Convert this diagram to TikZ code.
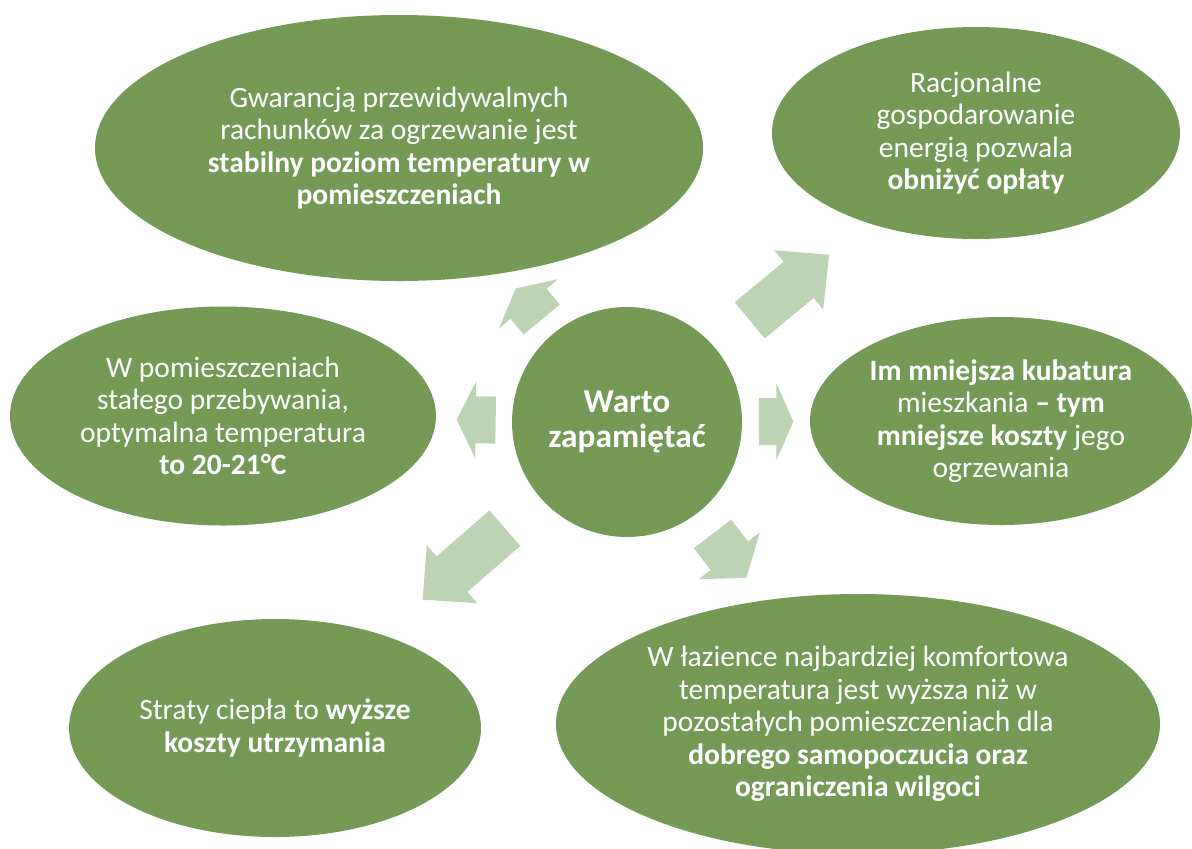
\documentclass[tikz,border=0pt]{standalone}
\usepackage{fontspec}
\setmainfont{Carlito}
\usetikzlibrary{shapes.geometric, calc}
\definecolor{leafgreen}{RGB}{116,154,86}
\definecolor{palegreen}{RGB}{188,212,179}
\tikzstyle{idea} = [ellipse, fill=leafgreen, text=white, inner sep=0pt, text centered, font=\fontsize{16.8}{18.5}\selectfont]
\tikzstyle{hubnode} = [circle, fill=leafgreen, text=white, minimum size=4.6cm, inner sep=0pt, text centered, font=\fontsize{19}{20}\selectfont\bfseries]
\tikzstyle{flow} = [fill=palegreen]
% block arrow from #1 towards #2: gap, length, head length
\newcommand{\flowarrow}[5]{%
  \path (#1) -- (#2) coordinate[pos=0] (fa) coordinate[pos=1] (fb);
  \pgfmathsetlengthmacro\fbase{#3+#4-#5}
  \pgfmathsetlengthmacro\ftip{#3+#4}
  \coordinate (ft) at ($(fa)!#3!(fb)$);
  \coordinate (fh) at ($(fa)!\fbase!(fb)$);
  \coordinate (fp) at ($(fa)!\ftip!(fb)$);
  \fill[flow] ($(ft)!0.47cm!90:(fb)$) -- ($(fh)!0.47cm!90:(fb)$) -- ($(fh)!0.77cm!90:(fb)$) -- (fp)
    -- ($(fh)!0.77cm!-90:(fb)$) -- ($(fh)!0.47cm!-90:(fb)$) -- ($(ft)!0.47cm!-90:(fb)$) -- cycle;
}
\begin{document}
\begin{tikzpicture}
[node distance=8cm,nodes={align=center}]
\useasboundingbox (0,0) rectangle (23.84,-16.96);
\node (hub) [hubnode] at (12.54,-8.44) {Warto\\zapamiętać};
\node (rachunki) [idea, above of=hub, xshift=-4.56cm, yshift=-2.52cm, minimum width=12.16cm, minimum height=5.32cm] {Gwarancją przewidywalnych\\rachunków za ogrzewanie jest\\\textbf{stabilny poziom temperatury w}\\\textbf{pomieszczeniach}};
\node (oplaty) [idea, above of=hub, xshift=6.98cm, yshift=-2.22cm, minimum width=8.16cm, minimum height=4.24cm] {Racjonalne\\gospodarowanie\\energią pozwala\\\textbf{obniżyć opłaty}};
\node (temp) [idea, left of=hub, xshift=-0.08cm, yshift=0.12cm, minimum width=8.52cm, minimum height=4.38cm] {W pomieszczeniach\\stałego przebywania,\\optymalna temperatura\\\textbf{to 20-21°C}};
\node (kubatura) [idea, right of=hub, xshift=-0.52cm, yshift=0.02cm, minimum width=7.64cm, minimum height=4.16cm] {\textbf{Im mniejsza kubatura}\\mieszkania \textbf{– tym}\\\textbf{mniejsze koszty} jego\\ogrzewania};
\node (straty) [idea, below of=hub, xshift=-7.04cm, yshift=1.88cm, minimum width=8.24cm, minimum height=4.36cm] {Straty ciepła to \textbf{wyższe}\\\textbf{koszty utrzymania}};
\node (lazienka) [idea, below of=hub, xshift=4.62cm, yshift=1.96cm, minimum width=12.08cm, minimum height=5.2cm] {W łazience najbardziej komfortowa\\temperatura jest wyższa niż w\\pozostałych pomieszczeniach dla\\\textbf{dobrego samopoczucia oraz}\\\textbf{ograniczenia wilgoci}};

\flowarrow{hub}{rachunki}{0.36cm}{0.81cm}{0.40cm}
\flowarrow{hub}{oplaty}{0.88cm}{2.06cm}{0.79cm}
\flowarrow{hub}{temp}{0.32cm}{0.78cm}{0.38cm}
\flowarrow{hub}{kubatura}{0.33cm}{0.69cm}{0.34cm}
\flowarrow{hub}{straty}{0.93cm}{2.18cm}{0.78cm}
\flowarrow{hub}{lazienka}{0.51cm}{1.11cm}{0.56cm}

\end{tikzpicture}
\end{document}
